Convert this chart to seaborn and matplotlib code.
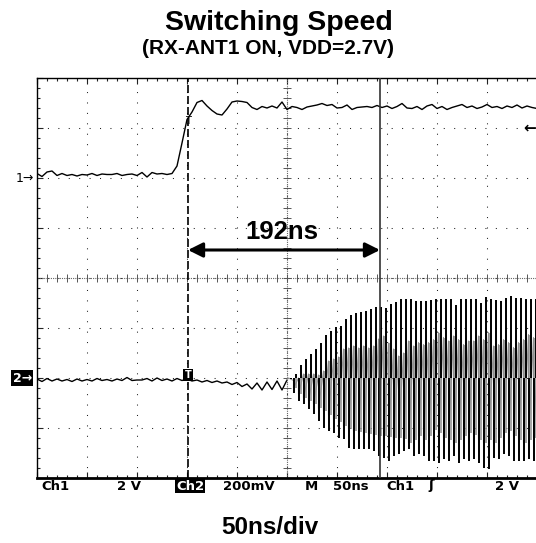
import numpy as np
import pandas as pd
import matplotlib
matplotlib.use('Agg')
import matplotlib.pyplot as plt
import matplotlib.transforms as mtransforms
import seaborn as sns

# ---- data (time in ns, level in divisions) ----
ch1_step = 5
ch1_vals = [2.09, 2.03, 2.12, 2.14, 2.05, 2.09, 2.05, 2.07, 2.04, 2.07,
            2.06, 2.09, 2.05, 2.08, 2.07, 2.07, 2.09, 2.05, 2.07, 2.08,
            2.05, 2.11, 2.02, 2.11, 2.08, 2.09, 2.07, 2.09, 2.24, 2.70,
            3.17, 3.32, 3.51, 3.55, 3.44, 3.35, 3.28, 3.26, 3.38, 3.52,
            3.54, 3.53, 3.51, 3.41, 3.37, 3.43, 3.40, 3.44, 3.40, 3.52,
            3.37, 3.43, 3.41, 3.37, 3.42, 3.44, 3.46, 3.49, 3.45, 3.47,
            3.40, 3.41, 3.46, 3.37, 3.41, 3.42, 3.43, 3.41, 3.45, 3.41,
            3.44, 3.39, 3.43, 3.49, 3.40, 3.39, 3.43, 3.37, 3.44, 3.47,
            3.39, 3.43, 3.37, 3.41, 3.44, 3.47, 3.41, 3.44, 3.39, 3.42,
            3.47, 3.41, 3.43, 3.39, 3.44, 3.41, 3.46, 3.40, 3.44, 3.41,
            3.39]

# ch2 before the RF burst
ch2_pre = [-2.02, -2.07, -2.01, -2.06, -2.02, -2.06, -2.03, -2.07, -2.02, -2.06,
           -2.03, -2.06, -2.01, -2.05, -2.03, -2.06, -2.02, -2.05, -1.99, -2.05,
           -2.04, -2.04, -2.01, -2.06, -2.00, -2.05, -2.02, -2.06, -2.01, -2.05,
           -2.02, -2.06, -2.04, -2.08, -2.05, -2.09, -2.06, -2.10, -2.08, -2.13,
           -2.09, -2.17, -2.12, -2.22, -2.10, -2.24, -2.08, -2.23, -2.06, -2.24,
           -2.04]

# RF burst: one bar every 5 ns, starting at 254 ns
osc_start = 254
osc_period = 5
osc_top = [-2.02, -1.92, -1.74, -1.62, -1.52, -1.42, -1.30, -1.14, -1.06, -0.98,
           -0.96, -0.82, -0.74, -0.70, -0.68, -0.66, -0.62, -0.58, -0.58, -0.60,
           -0.52, -0.48, -0.42, -0.42, -0.42, -0.46, -0.46, -0.46, -0.44, -0.42,
           -0.42, -0.42, -0.42, -0.54, -0.42, -0.42, -0.42, -0.42, -0.50, -0.38,
           -0.42, -0.44, -0.46, -0.40, -0.36, -0.40, -0.40, -0.42, -0.42, -0.42]
osc_bot = [-2.30, -2.46, -2.52, -2.62, -2.72, -2.86, -3.00, -3.06, -3.10, -3.20,
           -3.22, -3.40, -3.42, -3.42, -3.42, -3.42, -3.46, -3.56, -3.60, -3.66,
           -3.56, -3.52, -3.46, -3.42, -3.56, -3.52, -3.56, -3.66, -3.66, -3.70,
           -3.62, -3.66, -3.56, -3.70, -3.62, -3.66, -3.62, -3.70, -3.80, -3.82,
           -3.60, -3.62, -3.52, -3.56, -3.66, -3.66, -3.66, -3.62, -3.66]
inner_top = [-2.05, -2.00, -1.92, -1.92, -1.92, -1.94, -1.86, -1.66, -1.62, -1.58,
             -1.42, -1.40, -1.36, -1.40, -1.36, -1.40, -1.36, -1.22, -1.16, -1.30,
             -1.42, -1.56, -1.50, -1.26, -1.36, -1.29, -1.33, -1.29, -1.23, -1.09,
             -1.19, -1.26, -1.16, -1.23, -1.33, -1.26, -1.26, -1.16, -1.23, -1.09,
             -1.36, -1.33, -1.23, -1.29, -1.39, -1.29, -1.23, -1.13, -1.19, -1.23]
inner_bot = [-2.20, -2.32, -2.40, -2.46, -2.52, -2.60, -2.66, -2.74, -2.82, -2.88,
             -2.96, -3.02, -3.06, -3.08, -3.10, -3.12, -3.14, -3.16, -3.16, -3.18,
             -3.20, -3.20, -3.22, -3.29, -3.23, -3.16, -3.23, -3.16, -3.03, -3.09,
             -3.19, -3.23, -3.29, -3.23, -3.16, -3.09, -3.13, -3.23, -3.29, -3.23,
             -3.29, -3.19, -3.09, -3.06, -3.16, -3.23, -3.29, -3.23, -3.19]
ch2_level = -2.0

trig_t = 151
cursor_t = 343
delta_label = '192ns'
trig_level = 3.0

scope_labels = [('Ch1', 41), ('2 V', 117), ('Ch2', 176), ('200mV', 223), ('M', 305),
                ('50ns', 333), ('Ch1', 386), ('ʃ', 428), ('2 V', 495)]

# ---- frames ----
ch1 = pd.DataFrame({'t': np.arange(len(ch1_vals)) * ch1_step, 'v': ch1_vals})
pre = pd.DataFrame({'t': np.arange(len(ch2_pre)) * ch1_step, 'v': ch2_pre})
t_top = osc_start + osc_period * np.arange(len(osc_top))
t_bot = osc_start + osc_period / 2 + osc_period * np.arange(len(osc_bot))
# the grey (inner) bars sit between the black ones
g_top = t_top + osc_period / 2
g_bot = t_bot + osc_period / 2
zig_t, zig_v = [pre['t'].iloc[-1]], [pre['v'].iloc[-1]]
for k in range(len(inner_top)):
    zig_t.append(g_top[k] - osc_period); zig_v.append(inner_bot[k - 1] if k > 0 else ch2_level)
    zig_t.append(g_top[k]); zig_v.append(inner_top[k])
zig = pd.DataFrame({'t': zig_t, 'v': zig_v})

sns.set_theme(style='white')
plt.rcParams['font.family'] = ['Liberation Sans', 'DejaVu Sans']
plt.rcParams['text.color'] = 'black'

fig = plt.figure(figsize=(5.36, 5.43), dpi=100)
W, H = 536, 543
ax = fig.add_axes([37 / W, 1 - 478 / H, 500 / W, 400 / H])
ax.set_xlim(0, 500)
ax.set_ylim(-4, 4)

# graticule
ax.set_xticks(np.arange(0, 501, 50))
ax.set_yticks(np.arange(-4, 4.1, 1))
ax.set_xticks(np.arange(0, 501, 10), minor=True)
ax.set_yticks(np.arange(-4, 4.1, 0.2), minor=True)
ax.tick_params(which='both', direction='in', top=True, bottom=True, left=True, right=False,
               labelbottom=False, labelleft=False, color='#222')
ax.tick_params(which='major', length=4, width=0.8)
ax.tick_params(which='minor', length=2, width=0.8)
ax.grid(True, which='major', color='#222', linestyle=(0, (1, 9)), linewidth=0.75)
for s in ['left', 'top']:
    ax.spines[s].set_color('black'); ax.spines[s].set_linewidth(1.0)
ax.spines['bottom'].set_color('black'); ax.spines['bottom'].set_linewidth(2.0)
ax.spines['right'].set_visible(False)

ax.axhline(0, color='#666', lw=0.8, linestyle=(0, (1, 1)), zorder=1)
ax.axvline(250, color='#666', lw=0.8, linestyle=(0, (1, 1)), zorder=1)
ax.plot(np.arange(0, 501, 10), np.zeros(51), ls='none', marker='|', ms=6, mew=0.7, color='#555', zorder=1)
ax.plot(np.full(41, 250), np.arange(-4, 4.1, 0.2), ls='none', marker='_', ms=6, mew=0.7, color='#555', zorder=1)

# traces
sns.lineplot(data=ch1, x='t', y='v', ax=ax, color='black', lw=1.0, sort=False, estimator=None)
sns.lineplot(data=pre, x='t', y='v', ax=ax, color='black', lw=1.0, sort=False, estimator=None)
sns.lineplot(data=zig, x='t', y='v', ax=ax, color='#9a9a9a', lw=0.8, sort=False, estimator=None)
ax.vlines(g_top, inner_top, ch2_level, color='#8c8c8c', lw=1.1)
ax.vlines(g_bot, ch2_level, inner_bot, color='#8c8c8c', lw=1.1)
ax.vlines(t_top, osc_top, ch2_level, color='black', lw=1.4)
ax.vlines(t_bot, ch2_level, osc_bot, color='black', lw=1.4)
ax.set_xlabel(''); ax.set_ylabel('')

# markers and cursors
ax.axvline(trig_t, color='black', lw=1.2, dashes=(4.8, 1.8), zorder=3)
ax.axvline(cursor_t, color='#333', lw=1.2, zorder=3)
ax.annotate('', xy=(trig_t, 0.56), xytext=(cursor_t, 0.56),
            arrowprops=dict(arrowstyle='<|-|>', color='black', lw=2.2, mutation_scale=22,
                            shrinkA=0, shrinkB=0), zorder=4)
ax.text(245, 0.92, delta_label, ha='center', va='center', fontsize=18.5, fontweight='bold')

blend = mtransforms.blended_transform_factory(ax.transAxes, ax.transData)
ax.text(-0.006, 2.0, '1→', transform=blend, ha='right', va='center', fontsize=9,
        family='DejaVu Sans', clip_on=False)
ax.text(-0.01, -2.0, '2→', transform=blend, ha='right', va='center', fontsize=9, color='white',
        family='DejaVu Sans', fontweight='bold', clip_on=False,
        bbox=dict(facecolor='black', edgecolor='none', pad=1.0))
ax.text(0.998, trig_level, '←', transform=blend, ha='right', va='center', fontsize=11,
        family='DejaVu Sans', fontweight='bold')
ax.text(trig_t, -1.94, 'T', ha='center', va='center', fontsize=7, color='white',
        family='DejaVu Sans', fontweight='bold', zorder=5,
        bbox=dict(facecolor='black', edgecolor='none', pad=1.0))
ax.text(trig_t, 3.24, 'T', ha='center', va='top', fontsize=7, family='DejaVu Sans', zorder=5)

# scope status line
for lab, px in scope_labels:
    kw = dict(fontsize=9.5, family='DejaVu Sans', fontweight='bold', ha='left', va='center')
    if lab == 'Ch2':
        kw.update(color='white', bbox=dict(facecolor='black', edgecolor='none', pad=0.6))
    fig.text(px / W, 1 - 486 / H, lab, **kw)

fig.text(279 / W, 1 - 23 / H, 'Switching Speed', ha='center', va='center', fontsize=20.5, fontweight='bold')
fig.text(268 / W, 1 - 48 / H, '(RX-ANT1 ON, VDD=2.7V)', ha='center', va='center', fontsize=15, fontweight='bold')
fig.text(270 / W, 1 - 528 / H, '50ns/div', ha='center', va='center', fontsize=17.5, fontweight='bold')

fig.savefig('out.png', dpi=100)
